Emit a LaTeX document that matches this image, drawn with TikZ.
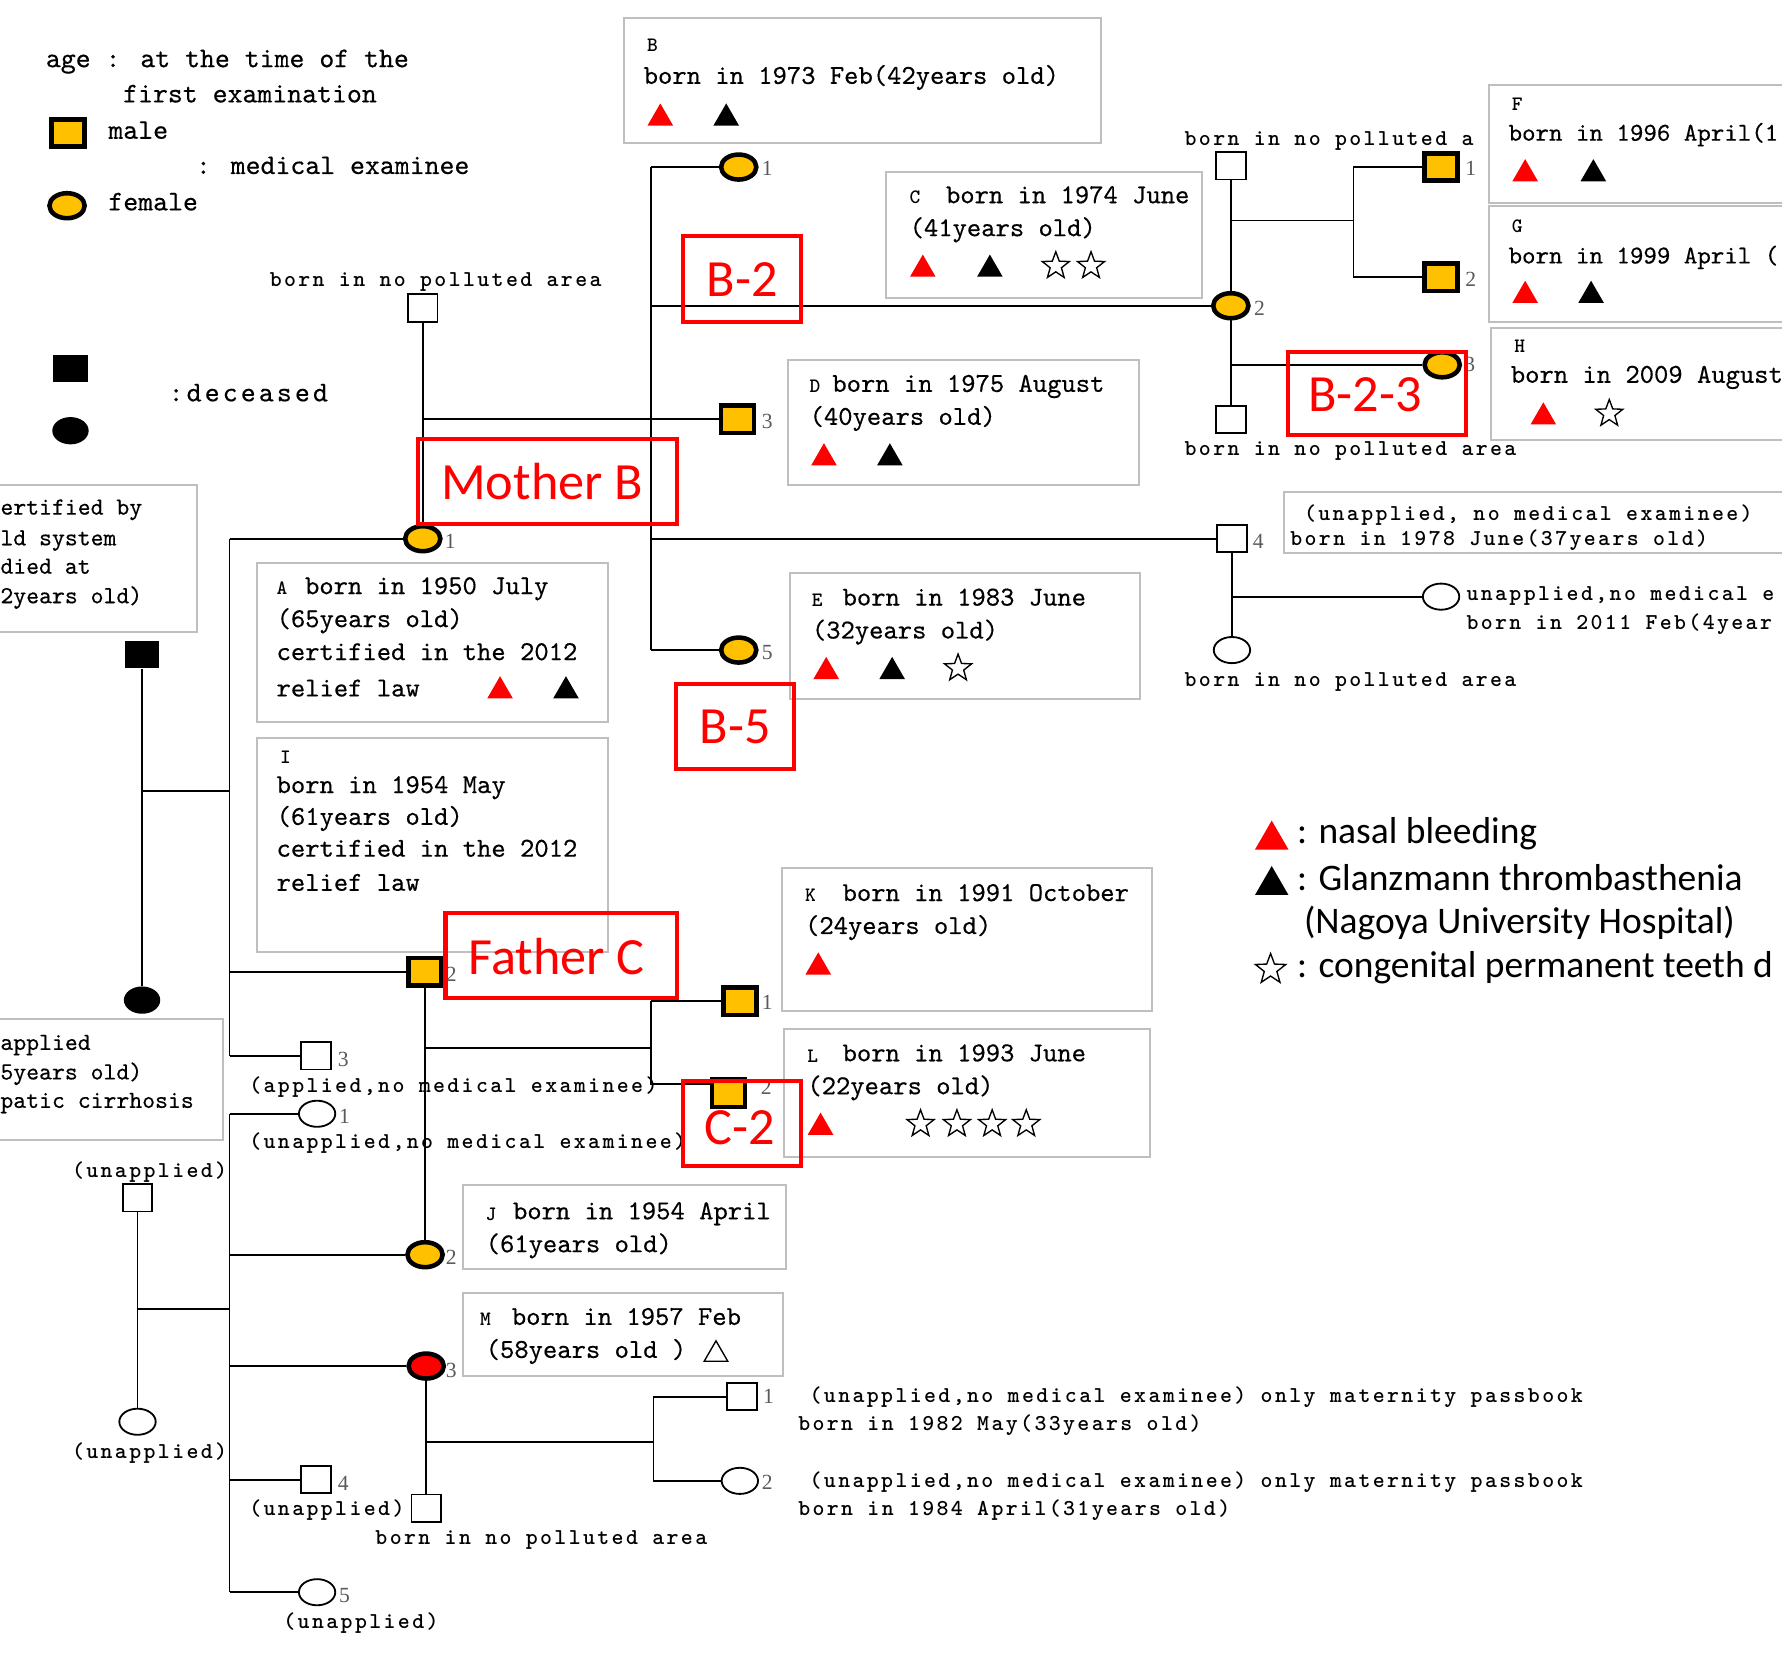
\documentclass[tikz,border=0pt]{standalone}
\usepackage{fontspec}
\usetikzlibrary{shapes.geometric}
\setmainfont{Liberation Serif}
\newfontfamily\monof[FakeBold=0.4]{lmmono10-regular.otf}
\newfontfamily\tagf{lmmonolt10-bold.otf}
\newfontfamily\lblf[LetterSpace=10.5]{lmmonolt10-bold.otf}
\newfontfamily\decf[LetterSpace=11,FakeBold=0.4]{lmmono10-regular.otf}
\newfontfamily\calf{Carlito}
\definecolor{orgc}{RGB}{255,192,0}
\definecolor{boxg}{RGB}{191,191,191}
\definecolor{numg}{RGB}{90,90,90}
\tikzset{
 pline/.style={line width=0.8pt},
 exsq/.style={rectangle, draw=black, line width=2pt, fill=orgc, minimum width=14.5pt, minimum height=12pt, inner sep=0pt},
 exci/.style={ellipse, draw=black, line width=2pt, fill=orgc, minimum width=15.5pt, minimum height=11pt, inner sep=0pt},
 redci/.style={exci, fill=red},
 opsq/.style={rectangle, draw=black, line width=0.8pt, fill=white, minimum width=13pt, minimum height=12pt, inner sep=0pt},
 opci/.style={ellipse, draw=black, line width=0.8pt, fill=white, minimum width=16pt, minimum height=11.5pt, inner sep=0pt},
 dsq/.style={rectangle, fill=black, minimum width=15pt, minimum height=12pt, inner sep=0pt},
 dci/.style={ellipse, fill=black, minimum width=16pt, minimum height=12pt, inner sep=0pt},
 gbox/.style={draw=boxg, line width=0.9pt, fill=white},
 rbox/.style={draw=red, line width=1.8pt},
 boxtxt/.style={font=\monof\fontsize{12}{14}\selectfont, anchor=west, inner sep=0pt, text height=8pt, text depth=2.2pt},
 edgetxt/.style={boxtxt, font=\monof\fontsize{11.3}{14}\selectfont},
 lefttxt/.style={boxtxt, font=\monof\fontsize{10.8}{13}\selectfont},
 tagtxt/.style={font=\tagf\fontsize{9}{10}\selectfont, anchor=west, inner sep=0pt, text height=5.5pt, text depth=0pt},
 lbltxt/.style={font=\lblf\fontsize{10}{11}\selectfont, anchor=west, inner sep=0pt, text height=6.5pt, text depth=1.8pt},
 numtxt/.style={font=\fontsize{9.5}{10}\selectfont, text=numg, anchor=west, inner sep=0pt},
 legtxt/.style={font=\monof\fontsize{12.5}{14}\selectfont, anchor=west, inner sep=0pt, text height=8.5pt, text depth=2.4pt},
 redlbl/.style={font=\calf\fontsize{23}{26}\selectfont, text=red, inner sep=0pt},
 keytxt/.style={font=\calf\fontsize{16.5}{19}\selectfont, anchor=west, inner sep=0pt, text height=11pt, text depth=3.5pt},
 rtri/.style={regular polygon, regular polygon sides=3, fill=red, minimum size=13pt, inner sep=0pt, yshift=-1.5pt},
 ktri/.style={rtri, fill=black},
 otri/.style={regular polygon, regular polygon sides=3, draw=black, line width=0.6pt, minimum size=12pt, inner sep=0pt, yshift=-1.4pt},
 bigrtri/.style={rtri, minimum size=17pt, yshift=-0.5pt},
 bigktri/.style={bigrtri, fill=black},
 ostar/.style={star, star points=5, star point ratio=2.4, draw=black, line width=0.6pt, minimum size=12.5pt, inner sep=0pt},
 bigstar/.style={ostar, minimum size=14pt},
}
\begin{document}
\begin{tikzpicture}[x=0.5pt,y=-0.5pt]
\useasboundingbox (0,0) rectangle (1568,1466);
\clip (0,0) rectangle (1568,1466);
\fill[white] (0,0) rectangle (1568,1466);

% ---------- gray boxes ----------
\draw[gbox] (549,16) rectangle (969,126);
\draw[gbox] (780,151) rectangle (1058,262);
\draw[gbox] (693,317) rectangle (1002,427);
\draw[gbox] (695,504) rectangle (1003,615);
\draw[gbox] (226,495) rectangle (535,635);
\draw[gbox] (226,649) rectangle (535,838);
\draw[gbox] (688,764) rectangle (1014,890);
\draw[gbox] (690,905) rectangle (1012,1018);
\draw[gbox] (407,1043) rectangle (692,1117);
\draw[gbox] (407,1138) rectangle (689,1211);
\draw[gbox] (1310,75) rectangle (1590,179);
\draw[gbox] (1310,181) rectangle (1590,283);
\draw[gbox] (1312,289) rectangle (1590,387);
\draw[gbox] (1130,433) rectangle (1590,487);
\draw[gbox] (-5,427) rectangle (173,556);
\draw[gbox] (-5,897) rectangle (196,1003);

% ---------- coordinates ----------
\coordinate (s2top) at (202,474);
\coordinate (s2bot) at (202,929);
\coordinate (s2c) at (202,855);
\coordinate (gd) at (125,696);
\coordinate (gd2) at (202,696);
\coordinate (mbd) at (372,369);
\coordinate (s1top) at (573,147);
\coordinate (s1b2) at (573,269);
\coordinate (s1b4) at (573,474);
\coordinate (s1bot) at (573,572);
\coordinate (u1) at (1083,194);
\coordinate (u2) at (1191,194);
\coordinate (fs) at (1191,147);
\coordinate (gs) at (1191,244);
\coordinate (hd) at (1083,321);
\coordinate (b4d) at (1084,525);
\coordinate (cjd) at (374,922);
\coordinate (cjs) at (573,922);
\coordinate (ks) at (573,881);
\coordinate (c2s) at (573,954);
\coordinate (ld1) at (121,1152);
\coordinate (ld2) at (202,1152);
\coordinate (s3top) at (202,980);
\coordinate (s3j) at (202,1104);
\coordinate (s3m) at (202,1202);
\coordinate (s3c4) at (202,1302);
\coordinate (s3bot) at (202,1401);
\coordinate (md1) at (375,1269);
\coordinate (md2) at (575,1269);
\coordinate (ms1) at (575,1229);
\coordinate (ms2) at (575,1303);

% ---------- legend symbols ----------
\node[exsq] (lgm) at (60,117) {};
\node[exci] (lgf) at (59,181) {};
\node[dsq] (lgdm) at (62,324) {};
\node[dci] (lgdf) at (62,379) {};

% ---------- persons ----------
\node[opsq] (hb) at (372,271) {};
\node[exci] (mb) at (372,474) {};
\node[exci] (b1) at (650,147) {};
\node[exci] (b2) at (1083,269) {};
\node[exsq] (b3) at (649,369) {};
\node[opsq] (b4) at (1084,474) {};
\node[exci] (b5) at (650,572) {};
\node[opsq] (h1) at (1083,146) {};
\node[opsq] (h2) at (1083,369) {};
\node[exsq] (ff) at (1268,147) {};
\node[exsq] (gg) at (1268,244) {};
\node[exci] (hh) at (1269,321) {};
\node[opci] (b4w) at (1084,572) {};
\node[opci] (b4c) at (1268,525) {};
\node[dsq] (gf) at (125,576) {};
\node[dci] (gm) at (125,880) {};
\node[exsq] (fc) at (374,855) {};
\node[opsq] (c3) at (278,929) {};
\node[exsq] (kk) at (651,881) {};
\node[exsq] (c2) at (641,962) {};
\node[opsq] (lf) at (121,1054) {};
\node[opci] (lm) at (121,1251) {};
\node[opci] (e1) at (279,980) {};
\node[exci] (jj) at (374,1104) {};
\node[redci] (mm) at (375,1202) {};
\node[opsq] (c4) at (278,1302) {};
\node[opci] (e5) at (279,1401) {};
\node[opsq] (mh) at (375,1327) {};
\node[opsq] (m1) at (653,1229) {};
\node[opci] (m2) at (651,1303) {};

% ---------- connectors ----------
\draw[pline] (hb.south) -- (mb.north);
\draw[pline] (mbd) -- (b3.west);
\draw[pline] (s1top) -- (s1bot);
\draw[pline] (s1top) -- (b1.west);
\draw[pline] (s1b2) -- (b2.west);
\draw[pline] (s1b4) -- (b4.west);
\draw[pline] (s1bot) -- (b5.west);
\draw[pline] (h1.south) -- (b2.north);
\draw[pline] (b2.south) -- (h2.north);
\draw[pline] (u1) -- (u2);
\draw[pline] (ff.west) -- (fs) -- (gs) -- (gg.west);
\draw[pline] (hd) -- (hh.west);
\draw[pline] (b4.south) -- (b4w.north);
\draw[pline] (b4d) -- (b4c.west);
\draw[pline] (gf.south) -- (gm.north);
\draw[pline] (gd) -- (gd2);
\draw[pline] (s2top) -- (s2bot);
\draw[pline] (s2top) -- (mb.west);
\draw[pline] (s2c) -- (fc.west);
\draw[pline] (s2bot) -- (c3.west);
\draw[pline] (fc.south) -- (jj.north);
\draw[pline] (cjd) -- (cjs);
\draw[pline] (ks) -- (kk.west);
\draw[pline] (ks) -- (c2s) -- (c2.west |- c2s);
\draw[pline] (lf.south) -- (lm.north);
\draw[pline] (ld1) -- (ld2);
\draw[pline] (s3top) -- (s3bot);
\draw[pline] (s3top) -- (e1.west);
\draw[pline] (s3j) -- (jj.west);
\draw[pline] (s3m) -- (mm.west);
\draw[pline] (s3c4) -- (c4.west);
\draw[pline] (s3bot) -- (e5.west);
\draw[pline] (mm.south) -- (mh.north);
\draw[pline] (md1) -- (md2);
\draw[pline] (ms1) -- (ms2);
\draw[pline] (ms1) -- (m1.west);
\draw[pline] (ms2) -- (m2.west);

% ---------- numbers ----------
\node[numtxt] (nb1) at (670,148) {1};
\node[numtxt] (nb2) at (1103,271) {2};
\node[numtxt] (nb3) at (670,371) {3};
\node[numtxt] (nb4) at (1102,476) {4};
\node[numtxt] (nb5) at (670,574) {5};
\node[numtxt] (nf) at (1289,148) {1};
\node[numtxt] (ng) at (1289,246) {2};
\node[numtxt] (nh) at (1288,321) {3};
\node[numtxt] (nmb) at (391,476) {1};
\node[numtxt] (nfc) at (392,857) {2};
\node[numtxt] (nc3) at (297,932) {3};
\node[numtxt] (nk) at (670,882) {1};
\node[numtxt] (nc2) at (669,957) {2};
\node[numtxt] (ne1) at (298,982) {1};
\node[numtxt] (njj) at (392,1106) {2};
\node[numtxt] (nmm) at (392,1206) {3};
\node[numtxt] (nc4) at (297,1305) {4};
\node[numtxt] (ne5) at (298,1404) {5};
\node[numtxt] (nm1) at (671,1229) {1};
\node[numtxt] (nm2) at (670,1304) {2};

% ---------- legend top-left ----------
\node[legtxt] (l1) at (40,53) {age : at the time of the};
\node[legtxt] (l2) at (108,84) {first examination};
\node[legtxt] (l3) at (95,116) {male};
\node[legtxt] (l4) at (172,147) {: medical examinee};
\node[legtxt] (l5) at (95,179) {female};
\node[legtxt, font=\decf\fontsize{12.5}{14}\selectfont] (l6) at (148,347) {:deceased};

% ---------- labels ----------
\node[lbltxt] (p1) at (237,247) {born in no polluted area};
\node[lbltxt] (p2) at (1042,123) {born in no polluted a};
\node[lbltxt] (p3) at (1042,396) {born in no polluted area};
\node[lbltxt] (p4) at (1147,453) {(unapplied, no medical examinee)};
\node[lbltxt] (p5) at (1135,475) {born in 1978 June(37years old)};
\node[lbltxt] (p6) at (1290,524) {unapplied,no medical e};
\node[lbltxt] (p7) at (1290,549) {born in 2011 Feb(4year};
\node[lbltxt] (p8) at (1042,599) {born in no polluted area};
\node[lbltxt] (p9) at (219,957) {(applied,no medical examinee)};
\node[lbltxt] (p10) at (219,1006) {(unapplied,no medical examinee)};
\node[lbltxt] (p11) at (63,1031) {(unapplied)};
\node[lbltxt] (p12) at (63,1279) {(unapplied)};
\node[lbltxt] (p13) at (219,1329) {(unapplied)};
\node[lbltxt] (p14) at (249,1428) {(unapplied)};
\node[lbltxt] (p15) at (330,1354) {born in no polluted area};
\node[lbltxt] (p16) at (712,1229) {(unapplied,no medical examinee) only maternity passbook};
\node[lbltxt] (p17) at (702,1254) {born in 1982 May(33years old)};
\node[lbltxt] (p18) at (712,1304) {(unapplied,no medical examinee) only maternity passbook};
\node[lbltxt] (p19) at (702,1329) {born in 1984 April(31years old)};

% ---------- box texts ----------
% B
\node[tagtxt] (tb) at (569,40) {B};
\node[boxtxt] (xb1) at (566,68) {born in 1973 Feb(42years old)};
\node[rtri] (rb) at (581,101) {};
\node[ktri] (kb) at (639,101) {};
% C
\node[tagtxt] (tc) at (800,174) {C};
\node[boxtxt] (xc1) at (832,173) {born in 1974 June};
\node[boxtxt] (xc2) at (800,202) {(41years old)};
\node[rtri] (rc) at (812,234) {};
\node[ktri] (kc) at (871,234) {};
\node[ostar] (sc1) at (929,234) {};
\node[ostar] (sc2) at (960,234) {};
% D
\node[tagtxt] (td) at (712,340) {D};
\node[boxtxt] (xd1) at (732,339) {born in 1975 August};
\node[boxtxt] (xd2) at (712,368) {(40years old)};
\node[rtri] (rd) at (725,400) {};
\node[ktri] (kd) at (783,400) {};
% E
\node[tagtxt] (te) at (714,528) {E};
\node[boxtxt] (xe1) at (741,527) {born in 1983 June};
\node[boxtxt] (xe2) at (714,556) {(32years old)};
\node[rtri] (re) at (727,588) {};
\node[ktri] (ke) at (785,588) {};
\node[ostar] (se) at (843,588) {};
% A
\node[tagtxt] (ta) at (243,518) {A};
\node[boxtxt] (xa1) at (268,517) {born in 1950 July};
\node[boxtxt] (xa2) at (243,546) {(65years old)};
\node[boxtxt] (xa3) at (243,575) {certified in the 2012};
\node[boxtxt] (xa4) at (243,607) {relief law};
\node[rtri] (ra) at (440,605) {};
\node[ktri] (ka) at (498,605) {};
% I
\node[tagtxt] (ti) at (246,666) {I};
\node[boxtxt] (xi1) at (243,692) {born in 1954 May};
\node[boxtxt] (xi2) at (243,720) {(61years old)};
\node[boxtxt] (xi3) at (243,748) {certified in the 2012};
\node[boxtxt] (xi4) at (243,778) {relief law};
% K
\node[tagtxt] (tk) at (708,788) {K};
\node[boxtxt] (xk1) at (741,787) {born in 1991 October};
\node[boxtxt] (xk2) at (708,816) {(24years old)};
\node[rtri] (rk) at (720,848) {};
% L
\node[tagtxt] (tl) at (710,929) {L};
\node[boxtxt] (xl1) at (741,928) {born in 1993 June};
\node[boxtxt] (xl2) at (710,957) {(22years old)};
\node[rtri] (rl) at (722,989) {};
\node[ostar] (sl1) at (810,989) {};
\node[ostar] (sl2) at (842,989) {};
\node[ostar] (sl3) at (873,989) {};
\node[ostar] (sl4) at (903,989) {};
% J
\node[tagtxt] (tj) at (427,1068) {J};
\node[boxtxt] (xj1) at (451,1067) {born in 1954 April};
\node[boxtxt] (xj2) at (427,1096) {(61years old)};
% M
\node[tagtxt] (tm) at (422,1161) {M};
\node[boxtxt] (xm1) at (450,1160) {born in 1957 Feb};
\node[boxtxt] (xm2) at (427,1189) {(58years old~)};
\node[otri] (om) at (630,1189) {};
% F
\node[tagtxt] (tf) at (1330,92) {F};
\node[edgetxt] (xf1) at (1327,118) {born in 1996 April(1};
\node[rtri] (rf) at (1342,150) {};
\node[ktri] (kf) at (1402,150) {};
% G
\node[tagtxt] (tg) at (1330,199) {G};
\node[edgetxt] (xg1) at (1327,226) {born in 1999 April (};
\node[rtri] (rg) at (1342,257) {};
\node[ktri] (kg) at (1400,257) {};
% H
\node[tagtxt] (th) at (1332,305) {H};
\node[boxtxt] (xh1) at (1329,331) {born in 2009 August};
\node[rtri] (rh) at (1358,364) {};
\node[ostar] (sh) at (1416,364) {};
% left boxes
\node[lefttxt] (xl11) at (0,447) {ertified by};
\node[lefttxt] (xl12) at (0,474) {ld system};
\node[lefttxt] (xl13) at (0,499) {died at};
\node[lefttxt] (xl14) at (0,525) {2years old)};
\node[lefttxt] (xl21) at (0,918) {applied};
\node[lefttxt] (xl22) at (0,944) {5years old)};
\node[lefttxt] (xl23) at (0,969) {patic cirrhosis};

% ---------- right legend ----------
\node[bigrtri] (kr) at (1119,735) {};
\node[keytxt] (kt1) at (1141,735) {: nasal bleeding};
\node[bigktri] (kb2) at (1119,775) {};
\node[keytxt] (kt2) at (1141,776) {: Glanzmann thrombasthenia};
\node[keytxt] (kt3) at (1147,814) {(Nagoya University Hospital)};
\node[bigstar] (ks2) at (1118,853) {};
\node[keytxt] (kt4) at (1141,853) {: congenital permanent teeth d};

% ---------- red labels ----------
\draw[rbox] (368,386) rectangle (596,461);
\node[redlbl] (rlmb) at (477,424) {Mother B};
\draw[rbox] (601,208) rectangle (705,283);
\node[redlbl] (rlb2) at (653,246) {B-2};
\draw[rbox] (1133,310) rectangle (1290,383);
\node[redlbl] (rlb23) at (1201,347) {B-2-3};
\draw[rbox] (595,602) rectangle (699,677);
\node[redlbl] (rlb5) at (647,640) {B-5};
\draw[rbox] (392,803) rectangle (596,878);
\node[redlbl] (rlfc) at (490,842) {Father C};
\draw[rbox] (601,951) rectangle (705,1026);
\node[redlbl] (rlc2) at (651,992) {C-2};
\end{tikzpicture}
\end{document}
